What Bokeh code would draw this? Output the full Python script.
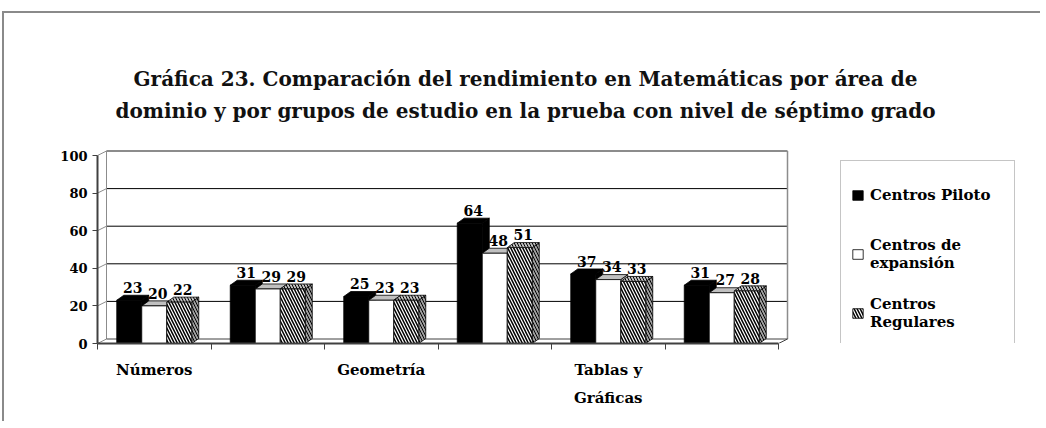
from bokeh.plotting import figure
from bokeh.models import Range1d, FixedTicker, Legend, LegendItem, Label
from bokeh.embed import file_html
from bokeh.resources import INLINE
from bokeh.core.properties import value

# ---------------- data ----------------
titulo = ["Gráfica 23. Comparación del rendimiento en Matemáticas por área de",
          "dominio y por grupos de estudio en la prueba con nivel de séptimo grado"]
areas = ["Números", "", "Geometría", "", "Tablas y\nGráficas", ""]
series = ["Centros Piloto", "Centros de\nexpansión", "Centros\nRegulares"]
piloto = [23, 31, 25, 64, 37, 31]
expansion = [20, 29, 23, 48, 34, 27]
regulares = [22, 29, 23, 51, 33, 28]
y_ticks = [0, 20, 40, 60, 80, 100]

# ---------------- layout constants ----------------
FONT = "DejaVu Serif"
FIG_W, FIG_H = 1038, 410
BORDER_L, BORDER_R, BORDER_T, BORDER_B = 93, 4, 2, 80
FRAME_W = FIG_W - BORDER_L - BORDER_R
FRAME_H = FIG_H - BORDER_T - BORDER_B
PX_X = 113.5      # pixels per category
PX_Y = 1.88       # pixels per value unit
X0 = -0.5
BW = 25.0 / PX_X               # bar width in category units
BDX, BDY = 7.0 / PX_X, 5.0 / PX_Y   # bar depth
WDX, WDY = 9.0 / PX_X, 4.5 / PX_Y   # wall depth
YMAX = y_ticks[-1]
n = len(areas)

p = figure(width=FIG_W, height=FIG_H, output_backend="svg", toolbar_location=None,
           x_range=Range1d(X0, X0 + FRAME_W / PX_X), y_range=Range1d(0, FRAME_H / PX_Y),
           min_border_left=BORDER_L, min_border_right=BORDER_R,
           min_border_top=BORDER_T, min_border_bottom=BORDER_B)
p.outline_line_color = None
p.xgrid.visible = False
p.ygrid.visible = False
p.background_fill_color = "white"
p.border_fill_color = "white"
p.styles = {"margin-top": "11px", "margin-left": "2px",
            "border-left": "2px solid #8a8a8a", "border-top": "2px solid #8a8a8a"}

# ---------------- 3D walls ----------------
xl, xr = X0, X0 + n
GRAY = "#8c8c8c"
inner = [v for v in y_ticks if 0 < v < YMAX]
p.segment(x0=[xl + WDX] * len(inner), y0=[v + WDY for v in inner],
          x1=[xr + WDX] * len(inner), y1=[v + WDY for v in inner],
          line_color="black", line_width=1)
p.segment(x0=[xl] * len(y_ticks), y0=y_ticks,
          x1=[xl + WDX] * len(y_ticks), y1=[v + WDY for v in y_ticks],
          line_color=GRAY, line_width=1)
# wall outline: top, left, right, floor back, floor right
p.segment(x0=[xl + WDX, xl + WDX, xr + WDX, xl + WDX, xr],
          y0=[YMAX + WDY, WDY, WDY, WDY, 0],
          x1=[xr + WDX, xl + WDX, xr + WDX, xr + WDX, xr + WDX],
          y1=[YMAX + WDY, YMAX + WDY, YMAX + WDY, WDY, WDY],
          line_color=[GRAY, GRAY, GRAY, "#404040", "#404040"], line_width=[2, 1, 1.5, 1, 1])

# ---------------- bars ----------------
hatch = dict(hatch_pattern="left_diagonal_line", hatch_color="black", hatch_scale=6)
styles = [
    dict(front=dict(fill_color="black", line_color="black"),
         top=dict(fill_color="black", line_color="black"),
         side=dict(fill_color="black", line_color="black")),
    dict(front=dict(fill_color="white", line_color="black"),
         top=dict(fill_color="#c0c0c0", line_color="black"),
         side=dict(fill_color="#c0c0c0", line_color="black")),
    dict(front=dict(fill_color="white", line_color="black", hatch_weight=1.5, **hatch),
         top=dict(fill_color="#c0c0c0", line_color="black", hatch_weight=1.0, **hatch),
         side=dict(fill_color="#a0a0a0", line_color="black", hatch_weight=1.0, **hatch)),
]

front_renderers = []
for k, vals in enumerate([piloto, expansion, regulares]):
    st = styles[k]
    cx = [i + (k - 1) * BW for i in range(n)]
    L = [c - BW / 2 for c in cx]
    R = [c + BW / 2 for c in cx]
    side_xs = [[r, r + BDX, r + BDX, r] for r in R]
    side_ys = [[0, BDY, v + BDY, v] for v in vals]
    top_xs = [[l, r, r + BDX, l + BDX] for l, r in zip(L, R)]
    top_ys = [[v, v, v + BDY, v + BDY] for v in vals]
    p.patches(side_xs, side_ys, line_width=0.8, **st["side"])
    p.patches(top_xs, top_ys, line_width=0.8, **st["top"])
    fr = p.vbar(x=cx, width=BW, top=vals, bottom=0, line_width=0.8, **st["front"])
    front_renderers.append(fr)
    p.text(x=[c + BDX / 2 for c in cx], y=[v + BDY + 1.2 for v in vals],
           text=[str(v) for v in vals], text_align="center", text_baseline="bottom",
           text_font=value(FONT), text_font_style="bold", text_font_size="14px",
           text_color="black")

# ---------------- axes ----------------
ya = p.yaxis[0]
ya.ticker = FixedTicker(ticks=y_ticks, minor_ticks=[])
ya.bounds = (0, YMAX)
ya.axis_line_color = "#404040"
ya.axis_line_width = 2
ya.major_tick_in = 0
ya.major_tick_out = 5
ya.major_tick_line_color = "#404040"
ya.major_label_standoff = 5
ya.major_label_text_font = FONT
ya.major_label_text_font_style = "bold"
ya.major_label_text_font_size = "13px"
ya.major_label_text_color = "black"

xa = p.xaxis[0]
xa.ticker = FixedTicker(ticks=list(range(n)), minor_ticks=[X0 + i for i in range(n + 1)])
xa.bounds = (xl, xr)
xa.major_label_overrides = {i: areas[i] for i in range(n)}
xa.axis_line_color = "#404040"
xa.axis_line_width = 2
xa.major_tick_in = 0
xa.major_tick_out = 0
xa.minor_tick_in = 0
xa.minor_tick_out = 6
xa.minor_tick_line_color = "#404040"
xa.major_label_standoff = 11
xa.major_label_text_font = FONT
xa.major_label_text_font_style = "bold"
xa.major_label_text_font_size = "15px"
xa.major_label_text_color = "black"
xa.major_label_text_line_height = 1.6

# ---------------- legend ----------------
legend = Legend(items=[LegendItem(label=s, renderers=[r]) for s, r in zip(series, front_renderers)],
                location=(743, -4), orientation="vertical",
                border_line_color=GRAY, border_line_width=1.5,
                padding=10, spacing=12, margin=0,
                glyph_width=13, glyph_height=12, label_standoff=6,
                label_height=47, label_width=134,
                label_text_font=FONT, label_text_font_style="bold",
                label_text_font_size="15px", label_text_line_height=1.55,
                label_text_color="black",
                background_fill_alpha=1.0)
p.add_layout(legend)

# ---------------- title ----------------
title_y = [265, 233]
for txt, yy in zip(titulo, title_y):
    p.add_layout(Label(x=428, y=yy, x_units="screen", y_units="screen", text=txt,
                       text_align="center", text_baseline="middle",
                       text_font=FONT, text_font_style="bold", text_font_size="20px",
                       text_color="#111111"))

open("out.html", "w").write(file_html(p, INLINE))
